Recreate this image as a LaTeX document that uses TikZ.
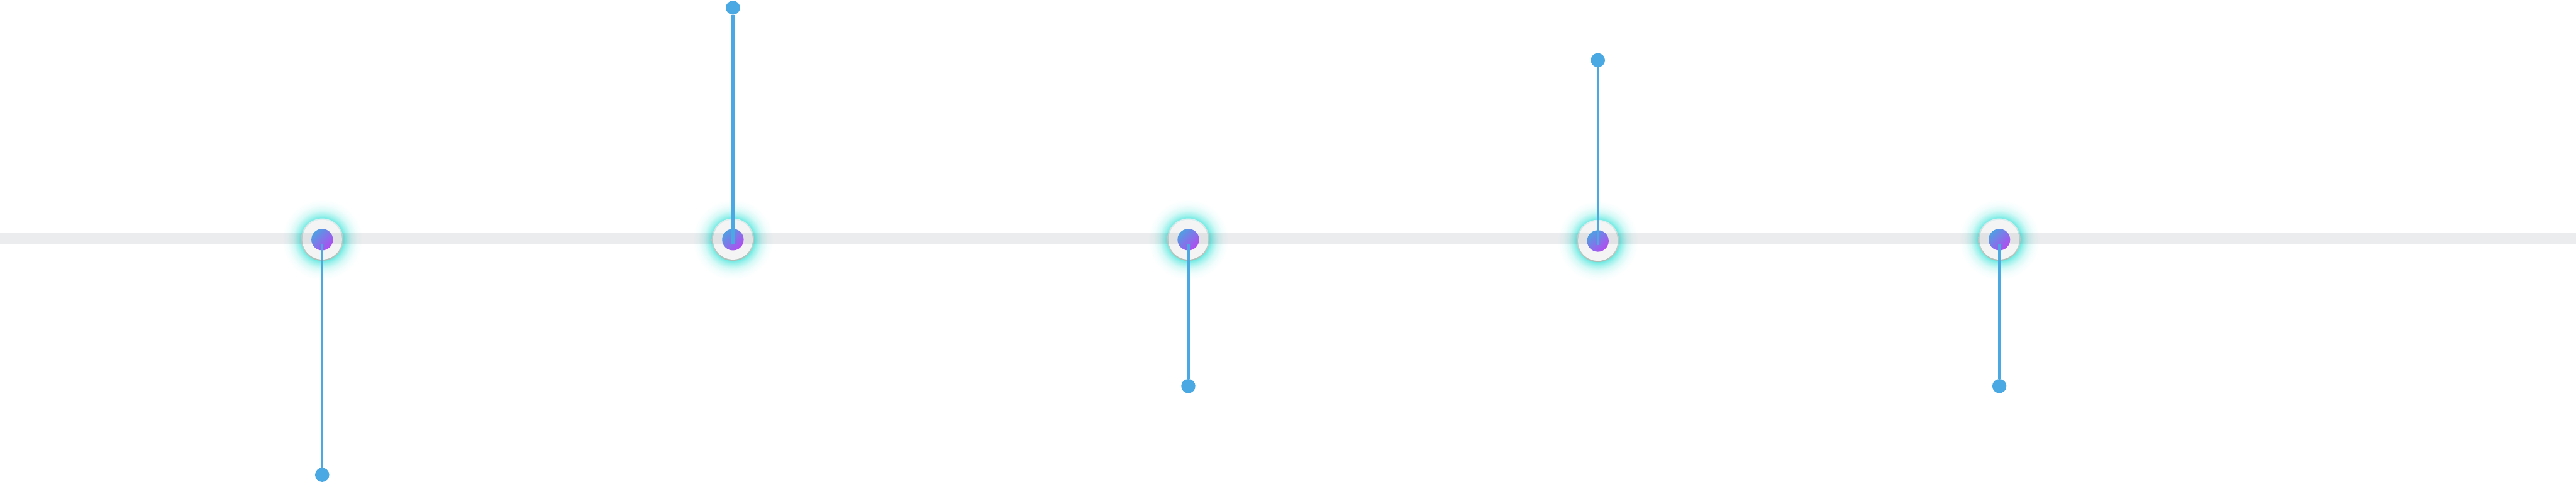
\documentclass[tikz,border=0pt]{standalone}
\usetikzlibrary{calc}

\definecolor{barcol}{RGB}{5,18,43}
\definecolor{linecol}{RGB}{74,168,226}
\definecolor{glowcol}{RGB}{110,234,226}
\definecolor{ringtop}{RGB}{224,240,242}
\definecolor{ringbot}{RGB}{170,190,182}
\definecolor{discfill}{RGB}{244,244,244}
\definecolor{dotblue}{RGB}{80,158,226}
\definecolor{dotpurple}{RGB}{178,76,240}

\pgfdeclareradialshading{glow}{\pgfpointorigin}{color(0bp)=(glowcol); color(13bp)=(glowcol); color(15bp)=(glowcol!65!white); color(18bp)=(glowcol!28!white); color(21.5bp)=(glowcol!8!white); color(25bp)=(white); color(50bp)=(white)}

\tikzset{
  ring/.style={circle, minimum size=1.26cm, inner sep=0pt, top color=ringtop, bottom color=ringbot},
  disc/.style={circle, minimum size=1.18cm, inner sep=0pt, fill=discfill},
  core/.style={circle, minimum size=0.64cm, inner sep=0pt, top color=dotblue, bottom color=dotpurple, shading angle=45},
  tip/.style={circle, minimum size=0.42cm, inner sep=0pt, fill=linecol},
  stem/.style={draw=linecol, line width=0.8mm},
  bar/.style={fill=barcol, fill opacity=0.08},
}

\begin{document}
\begin{tikzpicture}
\useasboundingbox (0,0) rectangle (76.48,14.32);

% halo, rim and disc of each stop
\foreach \i/\x/\y in {1/9.565/7.20, 2/21.76/7.20, 3/35.28/7.20, 4/47.44/7.16, 5/59.36/7.20} {
  \shade[shading=glow] (\x,\y) circle (1.2);
  \node[ring] (r\i) at (\x,\y) {};
  \node[disc] (d\i) at (r\i) {};
}

% the track
\fill[bar] (0,7.08) rectangle (76.48,7.40);

% coloured centres
\foreach \i in {1,...,5} {
  \node[core] (m\i) at (r\i) {};
  \coordinate (j\i) at ($(m\i)+(0,-0.12)$);
}

% end dots
\node[tip] (t1) at (9.565,0.21) {};
\node[tip] (t2) at (21.76,14.09) {};
\node[tip] (t3) at (35.28,2.85) {};
\node[tip] (t4) at (47.44,12.53) {};
\node[tip] (t5) at (59.36,2.85) {};

\draw[stem] (j1) -- (t1);
\draw[stem] (t2) -- (j2);
\draw[stem] (j3) -- (t3);
\draw[stem] (t4) -- (j4);
\draw[stem] (j5) -- (t5);
\end{tikzpicture}
\end{document}
